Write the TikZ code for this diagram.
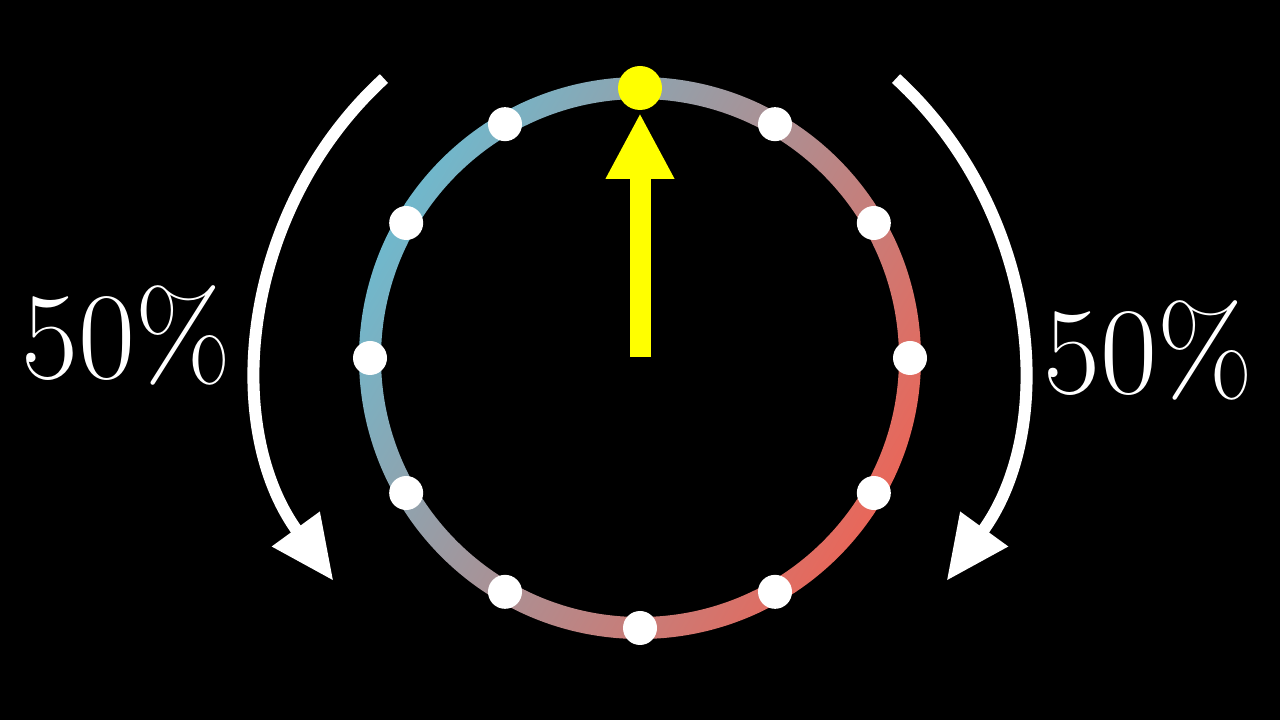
\documentclass[tikz,border=0pt]{standalone}
\usetikzlibrary{arrows.meta,calc}
\definecolor{ringblue}{HTML}{70B8CC}
\definecolor{ringred}{HTML}{E8675A}
\definecolor{yel}{HTML}{FFFF00}
\begin{document}
\begin{tikzpicture}[x=1pt,y=1pt,
  dotw/.style={circle,fill=white,inner sep=0pt,minimum size=34pt},
  bigarrow/.style={white,line width=12pt,-{Triangle[width=56pt,length=64pt]}},
  pct/.style={white,font=\fontsize{124}{124}\selectfont}]
\fill[black] (0,0) rectangle (1280,720);
\coordinate (c) at (640,362);
\shade[even odd rule,left color=ringblue,right color=ringred,shading angle=60]
  (c) circle (281) (c) circle (259);
\foreach \a in {0,30,...,330}{
  \ifnum\a=90\else
  \node[dotw] (d\a) at ($(c)+(\a:270)$) {};
  \fi}
\node[circle,fill=yel,inner sep=0pt,minimum size=44pt] (d90) at ($(c)+(90:270)$) {};
\coordinate (ya) at (640,363);
\coordinate (yb) at (640,607);
\draw[yel,line width=21pt,-{Triangle[width=64pt,length=66pt]}] (ya) -- (yb);
\draw[bigarrow] ($(c)+(132.5:379)$) arc[start angle=132.5,end angle=216,radius=379];
\draw[bigarrow] ($(c)+(47.5:379)$) arc[start angle=47.5,end angle=-36,radius=379];
\node[pct] (l) at (126,385) {50\%};
\node[pct] (r) at (1148,370) {50\%};
\end{tikzpicture}
\end{document}
